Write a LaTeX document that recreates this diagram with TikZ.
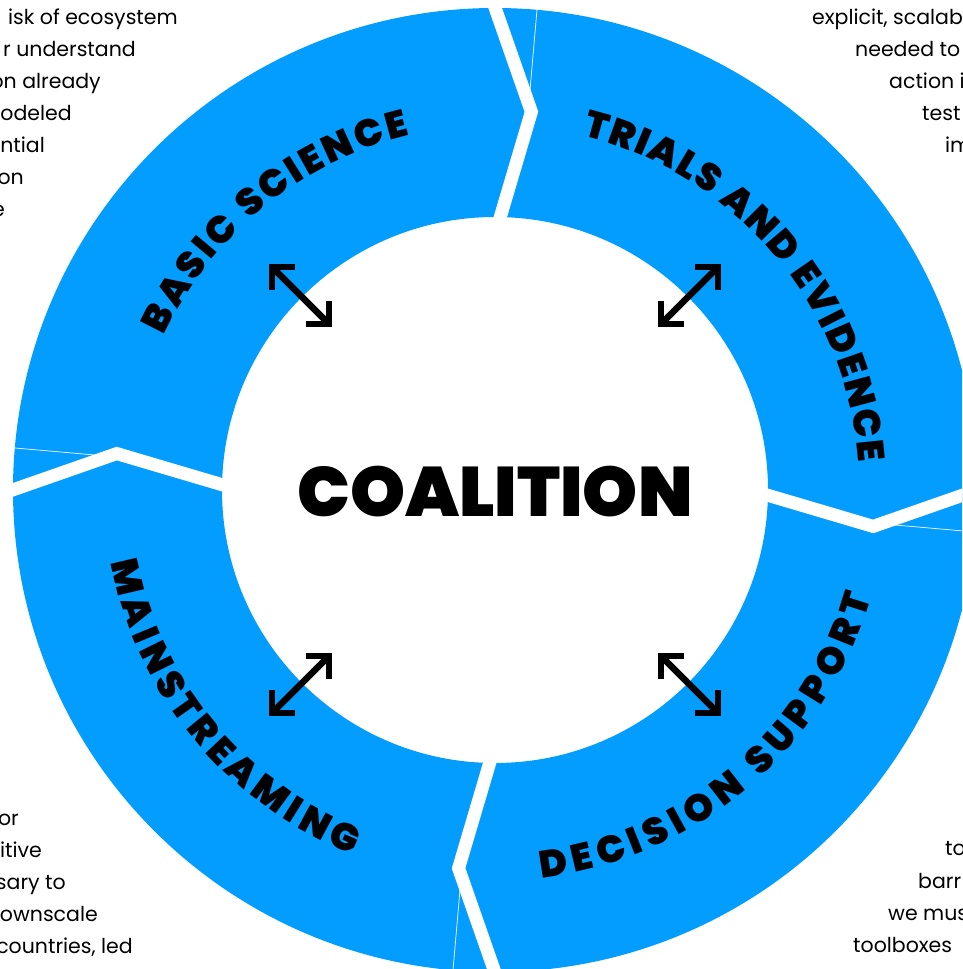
\documentclass[tikz,border=0pt]{standalone}
\usepackage{fontspec}
\setmainfont{Poppins}
\IfFontExistsTF{Poppins Black}{\newfontfamily\heavyfont{Poppins Black}}{\newcommand\heavyfont{\bfseries}}
\usetikzlibrary{arrows.meta, decorations.text}
\definecolor{ringblue}{HTML}{039CFF}

\begin{document}
\begin{tikzpicture}[x=1pt, y=1pt,
  ring/.style={fill=ringblue, even odd rule},
  gap/.style={draw=white, line width=13pt, line join=miter},
  seam/.style={draw=white, line width=0.7pt},
  link/.style={line width=6.5pt, {Straight Barb[angle=90:23pt, line cap=butt, line join=miter]}-{Straight Barb[angle=90:23pt, line cap=butt, line join=miter]}},
  body/.style={font=\fontsize{20.5}{20.5}\selectfont, inner sep=0pt},
  arclabel/.style={decorate, decoration={text along path, text align={fit to path},
    text={|\heavyfont\fontsize{38}{38}\selectfont|#1}}}]
  \useasboundingbox (-495,-479) rectangle (467,490);
  \clip (-495,-479) rectangle (467,490);

  % ring and the four cuts
  \coordinate (c) at (0,0);
  \path[ring] (c) circle[radius=482] (c) circle[radius=273];
  \foreach \a in {0,90,180,270} {
    \draw[gap] (\a:255) -- (\a-5.5:380) -- (\a+0.7:500);
    \draw[seam] (\a-5:398) -- (\a-5:486);
  }

  % labels on the ring
  \path[arclabel={BASIC SCIENCE}] (155:365) arc[start angle=155, end angle=103.5, radius=365];
  \path[arclabel={TRIALS AND EVIDENCE}] (76.2:365) arc[start angle=76.2, end angle=4.3, radius=365];
  \path[arclabel={DECISION SUPPORT}] (276.8:391) arc[start angle=276.8, end angle=344.1, radius=391];
  \path[arclabel={MAINSTREAMING}] (190.6:391) arc[start angle=190.6, end angle=248.7, radius=391];

  \node[font=\heavyfont\fontsize{70}{70}\selectfont, inner sep=0pt, anchor=base] (coal) at (0,-27) {COALITION};

  % arrows between the core and each part
  \foreach \a/\n in {135/bs, 45/te, 315/ds, 225/ms} {
    \coordinate (\n in) at (\a:230);
    \coordinate (\n out) at (\a:320);
    \draw[link] (\n out) -- (\n in);
  }

  % cut-off text in the corners
  \foreach \x/\y/\t [count=\i] in {-317/465/isk of ecosystem, -359/433/r understand, -394/401/on already,
      -423/369/odeled, -450/337/ntial, -471/305/on, -490/273/e}
    \node[body, anchor=base east] (tl\i) at (\x,\y) {\t};
  \foreach \x/\y/\t [count=\i] in {317/465/{explicit, scalab}, 360/433/needed to, 394/401/action i,
      427/369/test, 450/337/im}
    \node[body, anchor=base west] (tr\i) at (\x,\y) {\t};
  \foreach \x/\y/\t [count=\i] in {-476/-335/or, -453/-367/itive, -429/-399/sary to,
      -397/-431/ownscale, -362/-463/{countries, led}}
    \node[body, anchor=base east] (bl\i) at (\x,\y) {\t};
  \foreach \x/\y/\t [count=\i] in {450/-365/to, 423/-398/barr, 393/-430/we mus, 358/-462/toolboxes}
    \node[body, anchor=base west] (br\i) at (\x,\y) {\t};
\end{tikzpicture}
\end{document}
